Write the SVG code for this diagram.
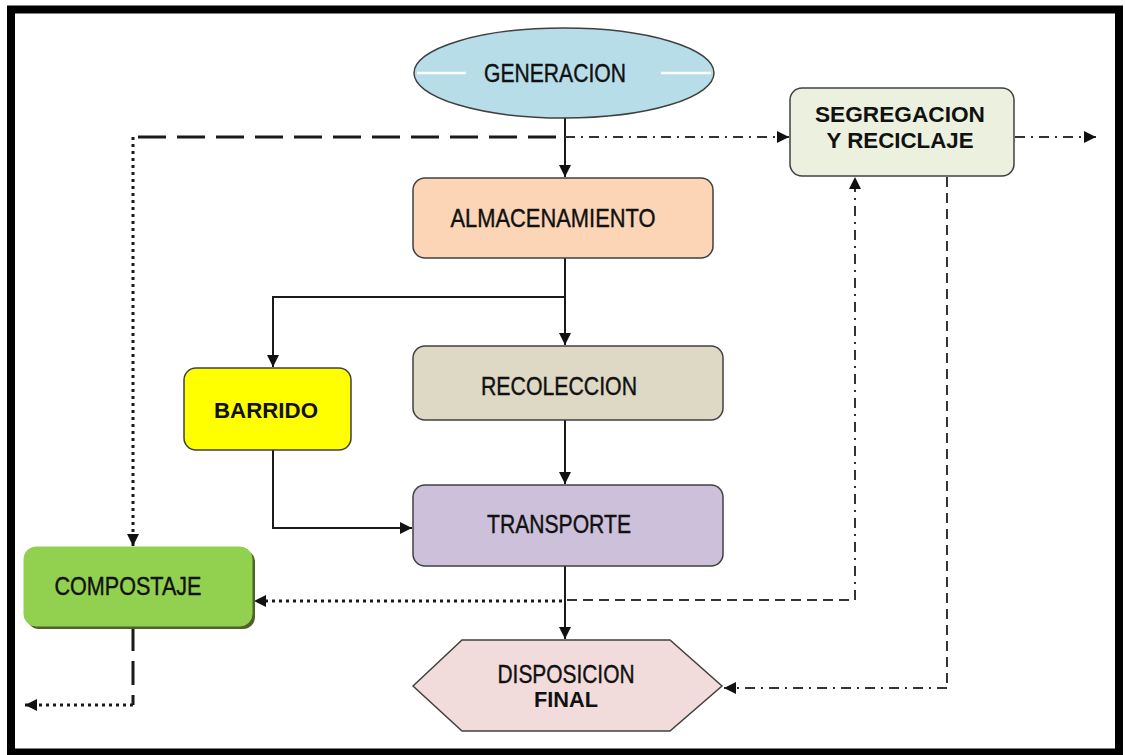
<svg xmlns="http://www.w3.org/2000/svg" width="1125" height="755" viewBox="0 0 1125 755">
  <style>
    .box { stroke: #404040; stroke-width: 1.5; }
    .nt { font-family: "Liberation Sans Narrow", "Liberation Sans", Arial, sans-serif; font-size: 25px; fill: #111111; text-anchor: middle; stroke: #111111; stroke-width: 0.4; }
    .bt { font-family: "Liberation Sans", Arial, sans-serif; font-weight: bold; font-size: 22px; fill: #111111; text-anchor: middle; }
    .solid { fill: none; stroke: #1a1a1a; stroke-width: 2; }
    .dotted { fill: none; stroke: #1a1a1a; stroke-width: 3; stroke-dasharray: 3 4; }
    .longdash { fill: none; stroke: #1a1a1a; stroke-width: 3; stroke-dasharray: 28 11; }
    .dash { fill: none; stroke: #333; stroke-width: 2; stroke-dasharray: 10 6; }
    .dashdot { fill: none; stroke: #333; stroke-width: 2; stroke-dasharray: 10 6 2 6; }
  </style>
  <defs>
    <marker id="arr" viewBox="0 0 10 10" refX="10" refY="5" markerWidth="12" markerHeight="12" markerUnits="userSpaceOnUse" orient="auto">
      <path d="M0,0 L10,5 L0,10 z" fill="#111"/>
    </marker>
  </defs>

  <rect x="0" y="0" width="1125" height="755" fill="#ffffff"/>
  <rect id="frame" x="11" y="9.5" width="1108" height="743" fill="none" stroke="#000" stroke-width="8"/>

  <g id="connectors">
    <path class="solid" d="M565,118 V177" marker-end="url(#arr)"/>
    <path class="longdash" d="M138,137 H565"/>
    <path class="dashdot" d="M565,137 H789" marker-end="url(#arr)"/>
    <path class="dotted" d="M133,137 V546" marker-end="url(#arr)"/>
    <path class="solid" d="M565,258 V345" marker-end="url(#arr)"/>
    <path class="solid" d="M565,297 H273 V367" marker-end="url(#arr)"/>
    <path class="solid" d="M565,420 V484" marker-end="url(#arr)"/>
    <path class="solid" d="M273,450 V528 H412" marker-end="url(#arr)"/>
    <path class="solid" d="M565,566 V639" marker-end="url(#arr)"/>
    <path class="dotted" d="M562,601 H254" marker-end="url(#arr)"/>
    <path class="dash" d="M567,600 H855"/>
    <path class="dashdot" d="M855,600 V177" marker-end="url(#arr)"/>
    <path class="dash" d="M947,177 V688"/>
    <path class="dashdot" d="M947,688 H724" marker-end="url(#arr)"/>
    <path class="dashdot" d="M1015,137 H1096" marker-end="url(#arr)"/>
    <path class="longdash" d="M133,627 V705" style="stroke-dasharray:24 10"/>
    <path class="dotted" d="M133,705 H25" marker-end="url(#arr)"/>
  </g>

  <g id="generacion">
    <ellipse cx="564" cy="73" rx="150" ry="45" fill="#b7dde8" class="box"/>
    <path d="M417,73 H466 M661,73 H711" stroke="#ffffff" stroke-width="2.5"/>
    <text class="nt" x="555" y="82" textLength="142" lengthAdjust="spacingAndGlyphs">GENERACION</text>
  </g>

  <g id="almacenamiento">
    <rect x="413" y="178" width="300" height="80" rx="12" fill="#fbd5b5" class="box"/>
    <text class="nt" x="553" y="227" textLength="205" lengthAdjust="spacingAndGlyphs">ALMACENAMIENTO</text>
  </g>

  <g id="recoleccion">
    <rect x="413" y="346" width="310" height="74" rx="12" fill="#ddd9c4" class="box"/>
    <text class="nt" x="559" y="395" textLength="156" lengthAdjust="spacingAndGlyphs">RECOLECCION</text>
  </g>

  <g id="barrido">
    <rect x="184" y="368" width="167" height="82" rx="12" fill="#ffff00" class="box"/>
    <text class="bt" x="266" y="418" textLength="104" lengthAdjust="spacingAndGlyphs">BARRIDO</text>
  </g>

  <g id="transporte">
    <rect x="413" y="485" width="310" height="81" rx="12" fill="#ccc0da" class="box"/>
    <text class="nt" x="559" y="533" textLength="144" lengthAdjust="spacingAndGlyphs">TRANSPORTE</text>
  </g>

  <g id="compostaje">
    <rect x="27" y="550" width="228" height="79" rx="12" fill="#4f6228"/>
    <rect x="24" y="547" width="228" height="79" rx="12" fill="#92d050" stroke="#92d050" stroke-width="1"/>
    <text class="nt" x="128" y="595" textLength="147" lengthAdjust="spacingAndGlyphs">COMPOSTAJE</text>
  </g>

  <g id="disposicion">
    <polygon points="413,686 462,640 670,640 722,686 670,731 462,731" fill="#f2dcdb" class="box"/>
    <text class="nt" x="566" y="683" textLength="137" lengthAdjust="spacingAndGlyphs">DISPOSICION</text>
    <text class="bt" x="566" y="707" textLength="64" lengthAdjust="spacingAndGlyphs">FINAL</text>
  </g>

  <g id="segregacion">
    <rect x="790" y="88" width="224" height="88" rx="12" fill="#ebf1de" class="box"/>
    <text class="bt" x="900" y="122" textLength="170" lengthAdjust="spacingAndGlyphs">SEGREGACION</text>
    <text class="bt" x="900" y="148" textLength="147" lengthAdjust="spacingAndGlyphs">Y RECICLAJE</text>
  </g>
</svg>
